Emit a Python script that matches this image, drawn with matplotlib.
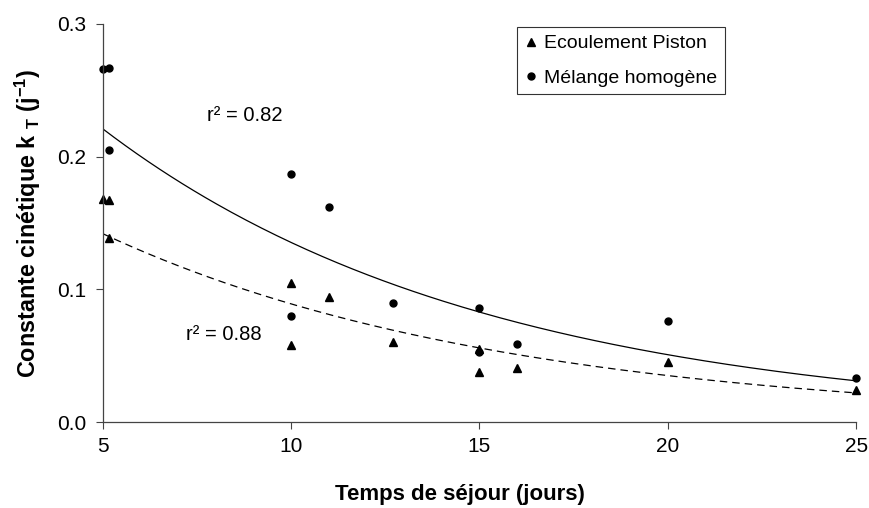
import matplotlib.pyplot as plt
import numpy as np

plt.rcParams['font.family'] = ['Liberation Sans', 'DejaVu Sans']
plt.rcParams['mathtext.fontset'] = 'custom'
plt.rcParams['mathtext.rm'] = 'Liberation Sans'
plt.rcParams['mathtext.bf'] = 'Liberation Sans:bold'

# Ecoulement Piston (triangles)
x_piston = [5, 5.17, 5.17, 10, 10, 11, 12.7, 15, 15, 16, 20, 25]
y_piston = [0.168, 0.167, 0.139, 0.105, 0.058, 0.094, 0.060, 0.055, 0.038, 0.041, 0.045, 0.024]

# Mélange homogène (circles)
x_melange = [5, 5.17, 5.17, 10, 10, 11, 12.7, 15, 15, 16, 20, 25]
y_melange = [0.266, 0.267, 0.205, 0.187, 0.080, 0.162, 0.090, 0.086, 0.053, 0.059, 0.076, 0.0335]

# exponential trendlines y = a*exp(-k*(x-5))
trend_melange = (0.221, 0.098)
trend_piston = (0.142, 0.0932)
r2_labels = ['r² = 0.82', 'r² = 0.88']

fig = plt.figure(figsize=(8.7, 5.08), dpi=100)
ax = fig.add_axes([0.118, 0.169, 0.866, 0.784])

xs = np.linspace(5, 25, 200)
ax.plot(xs, trend_melange[0]*np.exp(-trend_melange[1]*(xs-5)), color='black', lw=0.9)
ax.plot(xs, trend_piston[0]*np.exp(-trend_piston[1]*(xs-5)), color='black', lw=0.9,
        dashes=(6, 4))

ax.plot(x_piston, y_piston, '^', color='black', ms=6, clip_on=False,
        label='Ecoulement Piston')
ax.plot(x_melange, y_melange, 'o', color='black', ms=5, clip_on=False,
        label='Mélange homogène')

ax.text(7.76, 0.231, r2_labels[0], fontsize=14.5, va='center', ha='left')
ax.text(7.2, 0.066, r2_labels[1], fontsize=14.5, va='center', ha='left')

ax.set_xlim(5, 25)
ax.set_ylim(0, 0.3)
ax.set_xticks([5, 10, 15, 20, 25])
ax.set_yticks([0.0, 0.1, 0.2, 0.3])
ax.set_yticklabels(['0.0', '0.1', '0.2', '0.3'])
ax.tick_params(direction='out', length=5, width=0.8, labelsize=15, color='#444444')
ax.tick_params(axis='x', pad=6)
ax.tick_params(axis='y', pad=7)
for s in ['top', 'right']:
    ax.spines[s].set_visible(False)
for s in ['left', 'bottom']:
    ax.spines[s].set_color('#444444')
    ax.spines[s].set_linewidth(0.9)

ax.set_xlabel('Temps de séjour (jours)', fontsize=16, fontweight='bold', labelpad=20,
              x=0.474)
ax.set_ylabel(r'Constante cinétique k $_{\mathbf{T}}$ (j$^{\mathbf{-1}}$)', fontsize=16.8,
              fontweight='bold', labelpad=10)

leg = ax.legend(loc='upper left', bbox_to_anchor=(0.55, 0.992), borderaxespad=0,
                fontsize=14, frameon=True, fancybox=False, edgecolor='black',
                handletextpad=0.4, handlelength=0.6, borderpad=0.4, labelspacing=0.85)
leg.get_frame().set_linewidth(0.8)

fig.savefig('out.png', dpi=100)
